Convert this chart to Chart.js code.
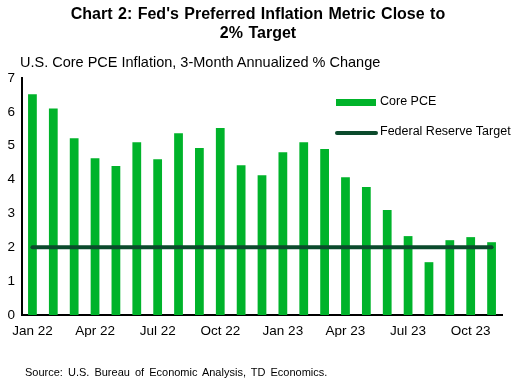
<!DOCTYPE html>
<html lang="en">
<head>
    <meta charset="UTF-8">
    <title>Core PCE Inflation</title>
    <script src="https://cdn.jsdelivr.net/npm/chart.js"></script>
    <style>
        body { margin: 0; background: #fff; font-family: "Liberation Sans", Arial, sans-serif; }
        .wrap { position: relative; width: 516px; height: 385px; }
        .title { position: absolute; left: 0; top: 4px; width: 516px; text-align: center; font-weight: bold; font-size: 16px; line-height: 19px; color: #000; word-spacing: 1px; }
        .subtitle { position: absolute; left: 20px; top: 54px; font-size: 14.5px; color: #000; }
        .source { position: absolute; left: 25px; top: 366px; font-size: 11px; color: #000; word-spacing: 2px; }
        canvas { position: absolute; left: 0; top: 0; }
    </style>
</head>
<body>
<div class="wrap">
    <canvas id="pceChart" width="516" height="385"></canvas>
    <div class="title">Chart 2: Fed's Preferred Inflation Metric Close to<br>2% Target</div>
    <div class="subtitle">U.S. Core PCE Inflation, 3-Month Annualized % Change</div>
    <div class="source">Source: U.S. Bureau of Economic Analysis, TD Economics.</div>
</div>
<script>
    const months = ['Jan 22', 'Feb 22', 'Mar 22', 'Apr 22', 'May 22', 'Jun 22', 'Jul 22', 'Aug 22', 'Sep 22', 'Oct 22', 'Nov 22', 'Dec 22',
                    'Jan 23', 'Feb 23', 'Mar 23', 'Apr 23', 'May 23', 'Jun 23', 'Jul 23', 'Aug 23', 'Sep 23', 'Oct 23', 'Nov 23'];
    const corePce = [6.52, 6.1, 5.22, 4.63, 4.4, 5.1, 4.6, 5.37, 4.93, 5.52, 4.42, 4.13,
                     4.81, 5.1, 4.9, 4.07, 3.78, 3.1, 2.33, 1.56, 2.21, 2.3, 2.15];
    const fedTarget = months.map(() => 2);
    const yTicks = [0, 1, 2, 3, 4, 5, 6, 7];

    const barColor = '#00b32a';
    const lineColor = '#0b4a2c';

    // legend drawn inside the plot, top right
    const legendPlugin = {
        id: 'innerLegend',
        afterDraw(chart) {
            const c = chart.ctx;
            c.save();
            c.font = '12.5px "Liberation Sans", Arial, sans-serif';
            c.textBaseline = 'middle';
            c.fillStyle = barColor;
            c.fillRect(336, 99, 40, 7);
            c.fillStyle = '#000';
            c.fillText('Core PCE', 380, 102);
            c.strokeStyle = lineColor;
            c.lineWidth = 4;
            c.lineCap = 'round';
            c.beginPath();
            c.moveTo(337, 133);
            c.lineTo(376, 133);
            c.stroke();
            c.fillText('Federal Reserve Target', 380, 132);
            c.restore();
        }
    };

    new Chart(document.getElementById('pceChart'), {
        data: {
            labels: months,
            datasets: [{
                type: 'line',
                label: 'Federal Reserve Target',
                data: fedTarget,
                borderColor: lineColor,
                borderWidth: 4,
                pointRadius: 0,
                borderCapStyle: 'round'
            }, {
                type: 'bar',
                label: 'Core PCE',
                data: corePce,
                backgroundColor: barColor,
                barPercentage: 0.42,
                categoryPercentage: 1
            }]
        },
        options: {
            responsive: false,
            animation: false,
            layout: { padding: { left: 0, right: 14, top: 78, bottom: 48 } },
            plugins: { legend: { display: false }, tooltip: { enabled: false } },
            scales: {
                x: {
                    grid: { display: false, drawTicks: false },
                    border: { color: '#000', width: 2 },
                    ticks: {
                        autoSkip: false, maxRotation: 0, padding: 8, color: '#000',
                        font: { family: '"Liberation Sans", Arial, sans-serif', size: 13.5 },
                        callback: (v, i) => i % 3 === 0 ? months[i] : ''
                    },
                    afterFit: s => { s.height = 22; }
                },
                y: {
                    min: 0, max: 7,
                    grid: { display: false, drawTicks: false },
                    border: { color: '#000', width: 2 },
                    afterBuildTicks: s => { s.ticks = yTicks.map(v => ({ value: v })); },
                    ticks: {
                        padding: 7, color: '#000',
                        font: { family: '"Liberation Sans", Arial, sans-serif', size: 13.5 }
                    },
                    afterFit: s => { s.width = 22; }
                }
            }
        },
        plugins: [legendPlugin]
    });
</script>
</body>
</html>
